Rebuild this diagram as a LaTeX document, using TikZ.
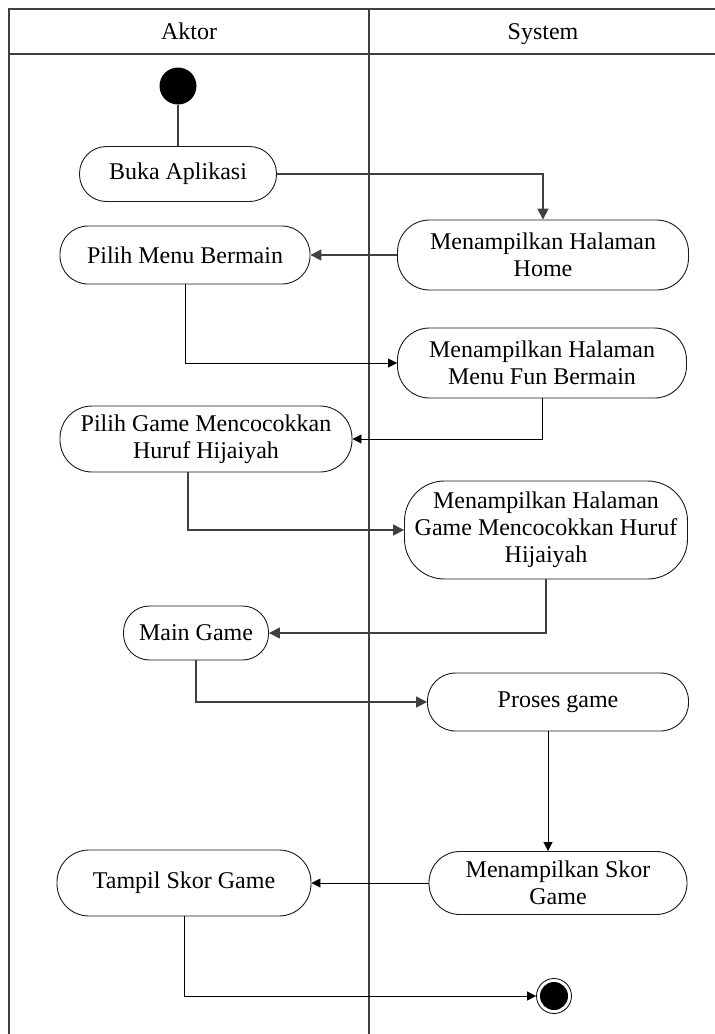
\documentclass[tikz,border=0pt]{standalone}
\usepackage{fontspec}
\setmainfont{Liberation Serif}
\usetikzlibrary{arrows.meta}
\begin{document}
\begin{tikzpicture}[x=1pt,y=-1pt,
  lane/.style={draw=black!75, line width=1.4pt},
  act/.style={draw=black!90, line width=0.9pt, rounded corners=#1, align=center,
    font=\fontsize{24}{27}\selectfont, inner sep=0pt},
  act/.default=26,
  head/.style={font=\fontsize{24}{27}\selectfont, anchor=base},
  flowA/.style={draw=black!75, line width=1.5pt, -{Triangle[length=11pt,width=11pt]}},
  flowB/.style={draw=black, line width=0.9pt, -{Triangle[length=9pt,width=9pt]}},
  plain/.style={draw=black!75, line width=1.5pt}]
\useasboundingbox (0,0) rectangle (715,1034);

% swimlane frame
\draw[lane] (9,1034) -- (9,9) -- (715,9);
\draw[lane] (9,54) -- (715,54);
\draw[lane] (369,9) -- (369,1034);
\node[head] (hA) at (189,39) {Aktor};
\node[head] (hS) at (543,39) {System};

% start and end
\node[circle, fill=black, minimum size=37pt, inner sep=0pt] (start) at (178,86) {};
\node[circle, draw=black, line width=0.8pt, minimum size=35pt, inner sep=0pt] (stop) at (554,996) {};
\node[circle, fill=black, minimum size=28pt, inner sep=0pt] (stopin) at (554,996) {};

% actions
\node[act=27, minimum width=197pt, minimum height=55pt] (buka) at (178,174) {Buka Aplikasi};
\node[act=32, minimum width=291pt, minimum height=70pt] (home) at (543,255) {Menampilkan Halaman\\Home};
\node[act=28, minimum width=250pt, minimum height=58pt] (menu) at (185,255) {Pilih Menu Bermain};
\node[act=32, minimum width=289pt, minimum height=70pt] (fun) at (542,363) {Menampilkan Halaman\\Menu Fun Bermain};
\node[act=32, minimum width=292pt, minimum height=66pt] (pgame) at (206,439) {Pilih Game Mencocokkan\\Huruf Hijaiyah};
\node[act=40, minimum width=283pt, minimum height=98pt] (gpage) at (546,530) {Menampilkan Halaman\\Game Mencocokkan Huruf\\Hijaiyah};
\node[act=26, minimum width=145pt, minimum height=54pt] (main) at (196,633) {Main Game};
\node[act=28, minimum width=261pt, minimum height=58pt] (proses) at (558,702) {Proses game};
\node[act=31, minimum width=258pt, minimum height=63pt] (skor) at (558,883) {Menampilkan Skor\\Game};
\node[act=32, minimum width=254pt, minimum height=66pt] (tampil) at (184,883) {Tampil Skor Game};

% flows
\draw[plain] (start) -- (buka);
\draw[flowA] (buka.east) -| (home.north);
\draw[flowA] (home.west) -- (menu.east);
\draw[flowB] (menu.south) |- (fun.west);
\draw[flowB] (fun.south) |- (pgame.east);
\draw[flowA] ([xshift=-18pt]pgame.south) |- (gpage.west);
\draw[flowA] (gpage.south) |- (main.east);
\draw[flowA] (main.south) |- (proses.west);
\draw[flowB] ([xshift=-10pt]proses.south) -- ([xshift=-10pt]skor.north);
\draw[flowB] (skor.west) -- (tampil.east);
\draw[flowB] (tampil.south) |- (stop.west);
\end{tikzpicture}
\end{document}
